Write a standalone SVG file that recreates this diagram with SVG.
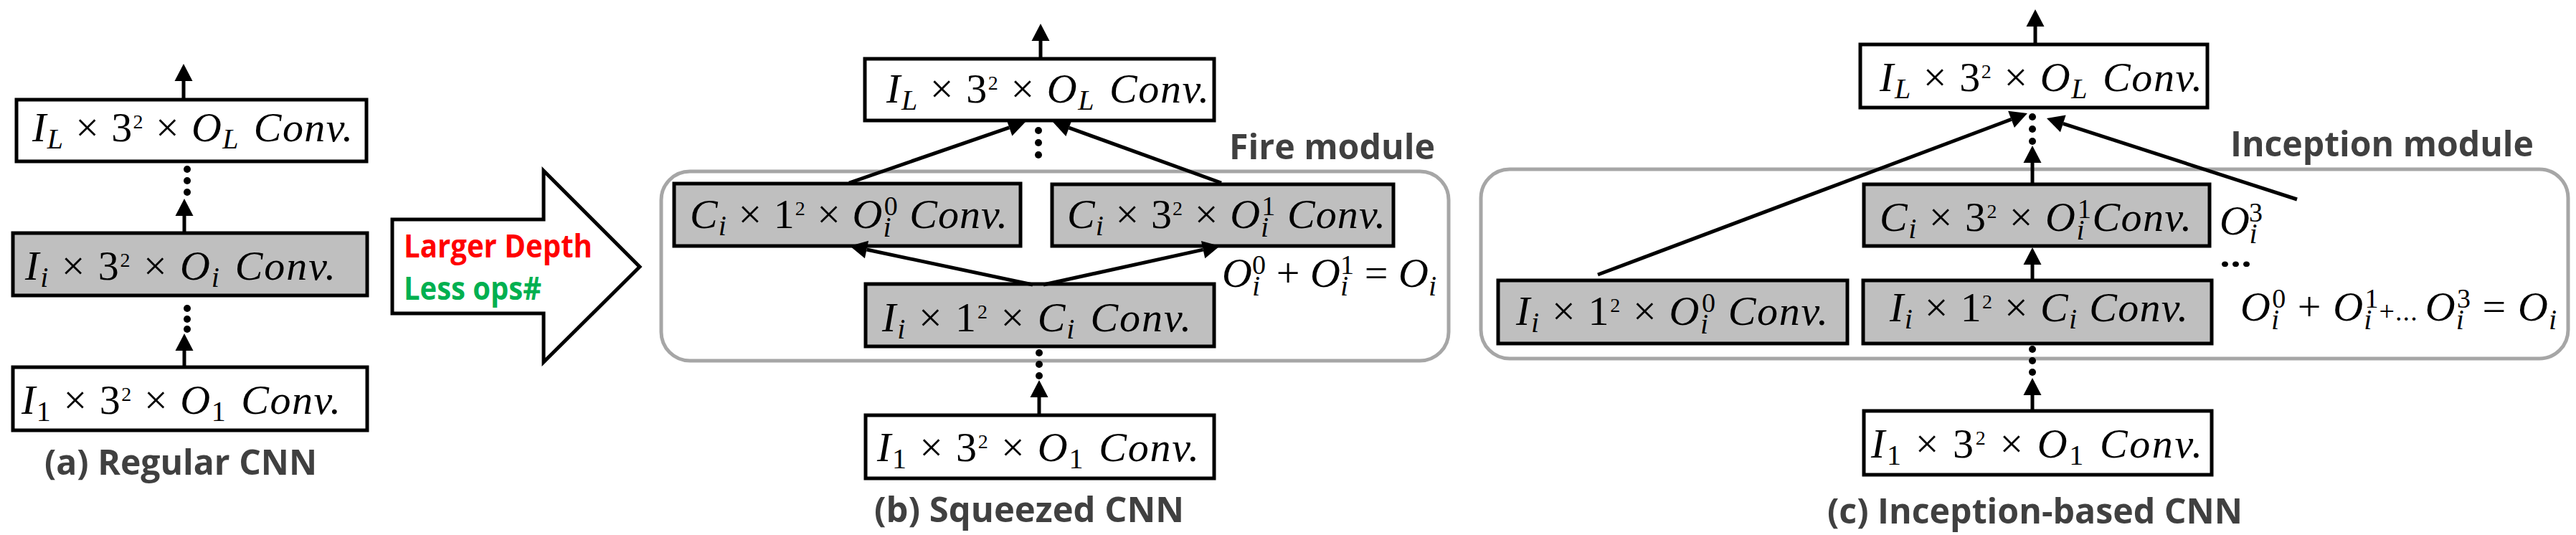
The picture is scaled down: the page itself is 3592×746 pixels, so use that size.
<svg xmlns="http://www.w3.org/2000/svg" width="3592" height="746" viewBox="0 0 3592 746">
<style>
.bx{stroke:#000;stroke-width:5;fill:#fff}
.g{fill:#BFBFBF}
.mod{fill:none;stroke:#A6A6A6;stroke-width:5}
.ln{stroke:#000;stroke-width:5;fill:none;marker-end:url(#ah)}
.dot{fill:#000}
.m{font-family:"Liberation Serif","DejaVu Serif",serif;font-style:italic;font-size:58px;fill:#000}
.s{font-size:40px}
.p{font-size:28px}
.q{font-size:38px}
.u{font-style:normal}
.cap{font-family:"Open Sans","Liberation Sans",sans-serif;font-weight:bold;font-size:48px;fill:#404040}
.big{font-family:"Open Sans","Liberation Sans",sans-serif;font-weight:bold;font-size:44px}
</style>
<defs>
<marker id="ah" markerUnits="userSpaceOnUse" markerWidth="26" markerHeight="26" viewBox="0 -13 26 26" refX="0" refY="0" orient="auto" overflow="visible"><path d="M0,-12.5 L24,0 L0,12.5z" fill="#000"/></marker>
</defs>
<rect width="3592" height="746" fill="#fff"/>

<!-- modules -->
<g id="fire-module">
<rect class="mod" x="922" y="239" width="1098" height="264" rx="40"/>
<text class="cap" x="1714" y="222" textLength="287" lengthAdjust="spacingAndGlyphs">Fire module</text>
</g>
<g id="inception-module">
<rect class="mod" x="2065" y="236" width="1516" height="264" rx="40"/>
<text class="cap" x="3110" y="218" textLength="423" lengthAdjust="spacingAndGlyphs">Inception module</text>
</g>

<!-- (a) -->
<g id="a-top">
<rect class="bx" x="23" y="139" width="488" height="86"/>
<text class="m" x="45" y="197" textLength="447">I<tspan class="s" dy="10">L</tspan><tspan class="u" dy="-10"> × 3</tspan><tspan class="u p" dy="-18">2</tspan><tspan class="u" dy="18"> × </tspan>O<tspan class="s" dy="10">L</tspan><tspan dy="-10" dx="20">Conv.</tspan></text>
</g>
<g id="a-mid">
<rect class="bx g" x="18" y="325" width="494" height="87"/>
<text class="m" x="35" y="390" textLength="433">I<tspan class="s" dy="10">i</tspan><tspan class="u" dy="-10"> × 3</tspan><tspan class="u p" dy="-18">2</tspan><tspan class="u" dy="18"> × </tspan>O<tspan class="s" dy="10">i</tspan><tspan dy="-10" dx="20">Conv.</tspan></text>
</g>
<g id="a-bot">
<rect class="bx" x="18" y="512" width="494" height="88"/>
<text class="m" x="30" y="577" textLength="445">I<tspan class="s u" dy="10">1</tspan><tspan class="u" dy="-10"> × 3</tspan><tspan class="u p" dy="-18">2</tspan><tspan class="u" dy="18"> × </tspan>O<tspan class="s u" dy="10">1</tspan><tspan dy="-10" dx="20">Conv.</tspan></text>
</g>
<g id="a-caption"><text class="cap" x="62" y="662" textLength="380" lengthAdjust="spacingAndGlyphs">(a) Regular CNN</text></g>

<g id="transform-arrow">
<polygon points="547,306 758,306 758,238 892,372 758,505 758,437 547,437" fill="#fff" stroke="#000" stroke-width="5"/>
<text class="big" x="563" y="359" fill="#FF0000" textLength="263" lengthAdjust="spacingAndGlyphs">Larger Depth</text>
<text class="big" x="563" y="418" fill="#00B050" textLength="192" lengthAdjust="spacingAndGlyphs">Less ops#</text>
</g>

<!-- (b) -->
<g id="b-top">
<rect class="bx" x="1206" y="82" width="487" height="86"/>
<text class="m" x="1236" y="143" textLength="450">I<tspan class="s" dy="10">L</tspan><tspan class="u" dy="-10"> × 3</tspan><tspan class="u p" dy="-18">2</tspan><tspan class="u" dy="18"> × </tspan>O<tspan class="s" dy="10">L</tspan><tspan dy="-10" dx="20">Conv.</tspan></text>
</g>
<g id="b-expand1">
<rect class="bx g" x="940" y="256" width="483" height="87"/>
<text class="m" x="962" y="318" textLength="443">C<tspan class="s" dy="10">i</tspan><tspan class="u" dy="-10"> × 1</tspan><tspan class="u p" dy="-18">2</tspan><tspan class="u" dy="18"> × </tspan>O<tspan class="s" dy="12">i</tspan><tspan class="u q" dx="-11" dy="-30">0</tspan><tspan dy="18"> Conv.</tspan></text>
</g>
<g id="b-expand3">
<rect class="bx g" x="1467" y="257" width="476" height="86"/>
<text class="m" x="1488" y="318" textLength="444">C<tspan class="s" dy="10">i</tspan><tspan class="u" dy="-10"> × 3</tspan><tspan class="u p" dy="-18">2</tspan><tspan class="u" dy="18"> × </tspan>O<tspan class="s" dy="12">i</tspan><tspan class="u q" dx="-11" dy="-30">1</tspan><tspan dy="18"> Conv.</tspan></text>
</g>
<g id="b-squeeze">
<rect class="bx g" x="1207" y="396" width="486" height="87"/>
<text class="m" x="1230" y="462" textLength="431">I<tspan class="s" dy="10">i</tspan><tspan class="u" dy="-10"> × 1</tspan><tspan class="u p" dy="-18">2</tspan><tspan class="u" dy="18"> × </tspan>C<tspan class="s" dy="10">i</tspan><tspan dy="-10" dx="20">Conv.</tspan></text>
</g>
<g id="b-eq">
<text class="m" x="1704" y="400" textLength="299">O<tspan class="s" dy="12">i</tspan><tspan class="u q" dx="-11" dy="-30">0</tspan><tspan class="u" dy="18"> + </tspan>O<tspan class="s" dy="12">i</tspan><tspan class="u q" dx="-11" dy="-30">1</tspan><tspan class="u" dy="18"> = </tspan>O<tspan class="s" dy="12">i</tspan></text>
</g>
<g id="b-bot">
<rect class="bx" x="1207" y="579" width="486" height="88"/>
<text class="m" x="1223" y="643" textLength="449">I<tspan class="s u" dy="10">1</tspan><tspan class="u" dy="-10"> × 3</tspan><tspan class="u p" dy="-18">2</tspan><tspan class="u" dy="18"> × </tspan>O<tspan class="s u" dy="10">1</tspan><tspan dy="-10" dx="20">Conv.</tspan></text>
</g>
<g id="b-caption"><text class="cap" x="1219" y="728" textLength="432" lengthAdjust="spacingAndGlyphs">(b) Squeezed CNN</text></g>

<!-- (c) -->
<g id="c-top">
<rect class="bx" x="2594" y="62" width="484" height="88"/>
<text class="m" x="2621" y="127" textLength="450">I<tspan class="s" dy="10">L</tspan><tspan class="u" dy="-10"> × 3</tspan><tspan class="u p" dy="-18">2</tspan><tspan class="u" dy="18"> × </tspan>O<tspan class="s" dy="10">L</tspan><tspan dy="-10" dx="20">Conv.</tspan></text>
</g>
<g id="c-conv3">
<rect class="bx g" x="2599" y="257" width="482" height="86"/>
<text class="m" x="2621" y="322" textLength="435">C<tspan class="s" dy="10">i</tspan><tspan class="u" dy="-10"> × 3</tspan><tspan class="u p" dy="-18">2</tspan><tspan class="u" dy="18"> × </tspan>O<tspan class="s" dy="12">i</tspan><tspan class="u q" dx="-11" dy="-30">1</tspan><tspan dy="18">Conv.</tspan></text>
</g>
<g id="c-conv1a">
<rect class="bx g" x="2089" y="391" width="487" height="88"/>
<text class="m" x="2114" y="453" textLength="435">I<tspan class="s" dy="10">i</tspan><tspan class="u" dy="-10"> × 1</tspan><tspan class="u p" dy="-18">2</tspan><tspan class="u" dy="18"> × </tspan>O<tspan class="s" dy="12">i</tspan><tspan class="u q" dx="-11" dy="-30">0</tspan><tspan dy="18"> Conv.</tspan></text>
</g>
<g id="c-conv1b">
<rect class="bx g" x="2598" y="391" width="486" height="88"/>
<text class="m" x="2635" y="448" textLength="416">I<tspan class="s" dy="10">i</tspan><tspan class="u" dy="-10"> × 1</tspan><tspan class="u p" dy="-18">2</tspan><tspan class="u" dy="18"> × </tspan>C<tspan class="s" dy="10">i</tspan><tspan dy="-10"> Conv.</tspan></text>
</g>
<g id="c-o3">
<text class="m" x="3095" y="327" textLength="60">O<tspan class="s" dy="12">i</tspan><tspan class="u q" dx="-11" dy="-30">3</tspan></text>
<text class="big" x="3095" y="372" fill="#000" textLength="45" lengthAdjust="spacingAndGlyphs">...</text>
</g>
<g id="c-eq">
<text class="m" x="3124" y="447" textLength="441">O<tspan class="s" dy="12">i</tspan><tspan class="u q" dx="-11" dy="-30">0</tspan><tspan class="u" dy="18"> + </tspan>O<tspan class="s" dy="12">i</tspan><tspan class="u q" dx="-11" dy="-30">1</tspan><tspan class="u q" dy="18">+...</tspan><tspan dx="10">O</tspan><tspan class="s" dy="12">i</tspan><tspan class="u q" dx="-11" dy="-30">3</tspan><tspan class="u" dy="18"> = </tspan>O<tspan class="s" dy="12">i</tspan></text>
</g>
<g id="c-bot">
<rect class="bx" x="2599" y="573" width="485" height="89"/>
<text class="m" x="2609" y="638" textLength="462">I<tspan class="s u" dy="10">1</tspan><tspan class="u" dy="-10"> × 3</tspan><tspan class="u p" dy="-18">2</tspan><tspan class="u" dy="18"> × </tspan>O<tspan class="s u" dy="10">1</tspan><tspan dy="-10" dx="20">Conv.</tspan></text>
</g>
<g id="c-caption"><text class="cap" x="2548" y="730" textLength="579" lengthAdjust="spacingAndGlyphs">(c) Inception-based CNN</text></g>

<!-- connectors -->
<g id="connectors">
<path class="ln" d="M256,139 V113"/>
<path class="ln" d="M257,325 V301"/>
<circle class="dot" cx="261" cy="236" r="5"/><circle class="dot" cx="261" cy="252" r="5"/><circle class="dot" cx="261" cy="268" r="5"/>
<path class="ln" d="M257,512 V489"/>
<circle class="dot" cx="261" cy="430" r="5"/><circle class="dot" cx="261" cy="445" r="5"/><circle class="dot" cx="261" cy="459" r="5"/>

<path class="ln" d="M1451,82 V57"/>
<circle class="dot" cx="1448" cy="182" r="5"/><circle class="dot" cx="1448" cy="199" r="5"/><circle class="dot" cx="1448" cy="216" r="5"/>
<path class="ln" d="M1184,255 L1407.3,177.8"/>
<path class="ln" d="M1703,255 L1490.6,178.2"/>
<path class="ln" d="M1440,397 L1208.5,348"/>
<path class="ln" d="M1455,397 L1677.6,348.1"/>
<circle class="dot" cx="1449" cy="492" r="5"/><circle class="dot" cx="1449" cy="508" r="5"/><circle class="dot" cx="1449" cy="524" r="5"/>
<path class="ln" d="M1449,579 V554"/>

<path class="ln" d="M2838,62 V37"/>
<circle class="dot" cx="2834" cy="163" r="5"/><circle class="dot" cx="2834" cy="180" r="5"/><circle class="dot" cx="2834" cy="197" r="5"/>
<path class="ln" d="M2834,257 V227"/>
<path class="ln" d="M2228,383 L2804.5,166.4"/>
<path class="ln" d="M3203,278 L2876.8,172.4"/>
<path class="ln" d="M2834,391 V369"/>
<circle class="dot" cx="2834" cy="487" r="5"/><circle class="dot" cx="2834" cy="503" r="5"/><circle class="dot" cx="2834" cy="519" r="5"/>
<path class="ln" d="M2834,573 V551"/>
</g>
</svg>
